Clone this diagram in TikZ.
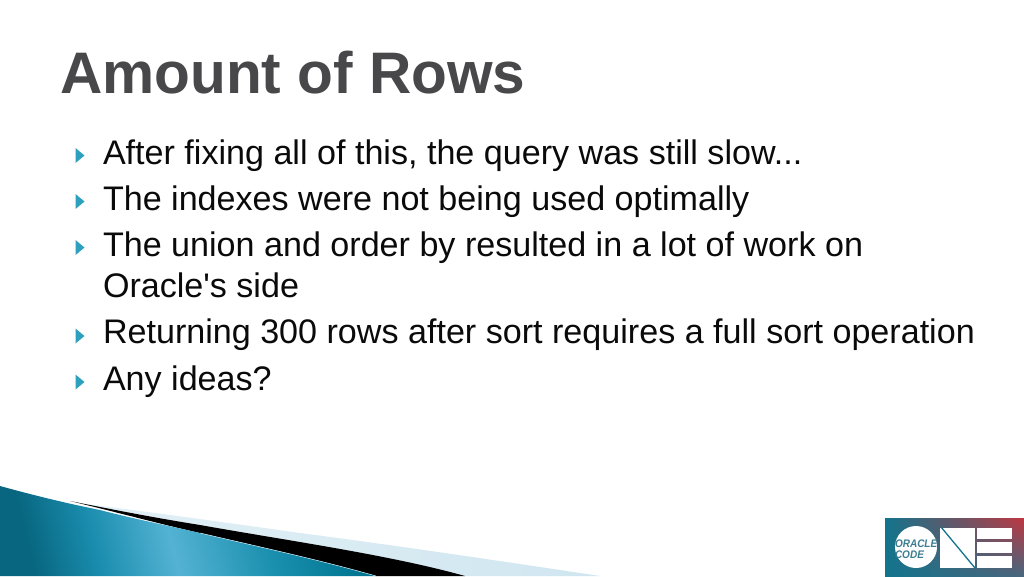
\documentclass[tikz,border=0pt]{standalone}
\usepackage{fontspec}
\setmainfont{Liberation Sans}
\usetikzlibrary{shadings}
\definecolor{titlegray}{RGB}{72,72,74}
\definecolor{bullettl}{RGB}{45,160,190}
\definecolor{bodyink}{RGB}{10,10,10}
\definecolor{paleA}{RGB}{226,240,246}
\definecolor{paleB}{RGB}{208,230,240}
\definecolor{logoteal}{RGB}{18,116,140}
\definecolor{logomid}{RGB}{72,102,125}
\definecolor{logored}{RGB}{190,55,65}
\definecolor{logotext}{RGB}{60,125,145}
\pgfdeclarehorizontalshading{swooshteal}{100bp}{
  rgb(0bp)=(0.03,0.40,0.50);
  rgb(25bp)=(0.03,0.40,0.50);
  rgb(35bp)=(0.10,0.55,0.68);
  rgb(47bp)=(0.33,0.70,0.83);
  rgb(62bp)=(0.10,0.56,0.68);
  rgb(75bp)=(0.00,0.46,0.57);
  rgb(100bp)=(0.00,0.46,0.57)}
\tikzset{
  bodytext/.style={anchor=base west,inner sep=0pt,outer sep=0pt,text=bodyink,font=\fontsize{34.1pt}{40pt}\selectfont},
  titletext/.style={anchor=base west,inner sep=0pt,outer sep=0pt,text=titlegray,font=\fontsize{58.6pt}{60pt}\selectfont\bfseries},
  bulletmark/.style={fill=bullettl,draw=none},
  logopanel/.style={fill=white,draw=none},
  logoword/.style={inner sep=0pt,outer sep=0pt,text=logotext,xscale=0.91,font=\fontsize{11pt}{11pt}\selectfont\bfseries\itshape}
}
\begin{document}
\begin{tikzpicture}[x=1pt,y=-1pt]
\useasboundingbox (0,0) rectangle (1024,576);
\fill[white] (0,0) rectangle (1024,576);
% title
\node[titletext] (title) at (60,93) {Amount of Rows};
% body
\node[bodytext] (l1) at (103,164) {After fixing all of this, the query was still slow...};
\node[bodytext] (l2) at (103,210) {The indexes were not being used optimally};
\node[bodytext] (l3) at (103,256) {The union and order by resulted in a lot of work on};
\node[bodytext] (l4) at (103,297) {Oracle\textquotesingle s side};
\node[bodytext] (l5) at (103,343) {Returning 300 rows after sort requires a full sort operation};
\node[bodytext] (l6) at (103,390) {Any ideas?};
% bullets
\fill[bulletmark] (75.5,148) -- (84.5,155.5) -- (75.5,163) -- cycle;
\fill[bulletmark] (75.5,194) -- (84.5,201.5) -- (75.5,209) -- cycle;
\fill[bulletmark] (75.5,240) -- (84.5,247.5) -- (75.5,255) -- cycle;
\fill[bulletmark] (75.5,328.5) -- (84.5,336) -- (75.5,343.5) -- cycle;
\fill[bulletmark] (75.5,374.5) -- (84.5,382) -- (75.5,389.5) -- cycle;
% swoosh
\shade[left color=paleA,right color=paleB]
  (85,504) .. controls (150,512) and (200,519) .. (300,533)
  .. controls (400,546) and (500,561) .. (600,576) -- (465,576) -- cycle;
\fill[black]
  (70,501) .. controls (110,509) and (150,517) .. (200,525)
  .. controls (290,541) and (390,555) .. (465,576) -- (376,576)
  .. controls (320,560) and (260,547) .. (200,533)
  .. controls (160,524) and (120,513) .. (70,501) -- cycle;
\shade[shading=swooshteal,shading angle=14]
  (0,486) .. controls (40,497) and (70,504) .. (100,510)
  .. controls (130,518) and (170,526) .. (200,533)
  .. controls (260,547) and (320,560) .. (376,576) -- (0,576) -- cycle;
\draw[paleB,line width=0.5pt]
  (200,533) .. controls (260,547) and (320,560) .. (376,576);
% logo
\shade[lower left=logoteal,upper left=logoteal,lower right=logomid,upper right=logored]
  (885,518) rectangle (1024,576);
\fill[white] (916,547) circle (21);
\fill[logopanel] (940,528) rectangle (975,568);
\draw[logoteal,line width=1.3pt] (941,527) -- (975,568);
\fill[logopanel] (977,528) rectangle (1012,539);
\fill[logopanel] (977,542) rectangle (1012,553);
\fill[logopanel] (977,556) rectangle (1012,568);
\node[logoword,anchor=base west] (w1) at (895,547) {ORACLE};
\node[logoword,anchor=base west] (w2) at (895,558) {CODE};
\end{tikzpicture}
\end{document}
